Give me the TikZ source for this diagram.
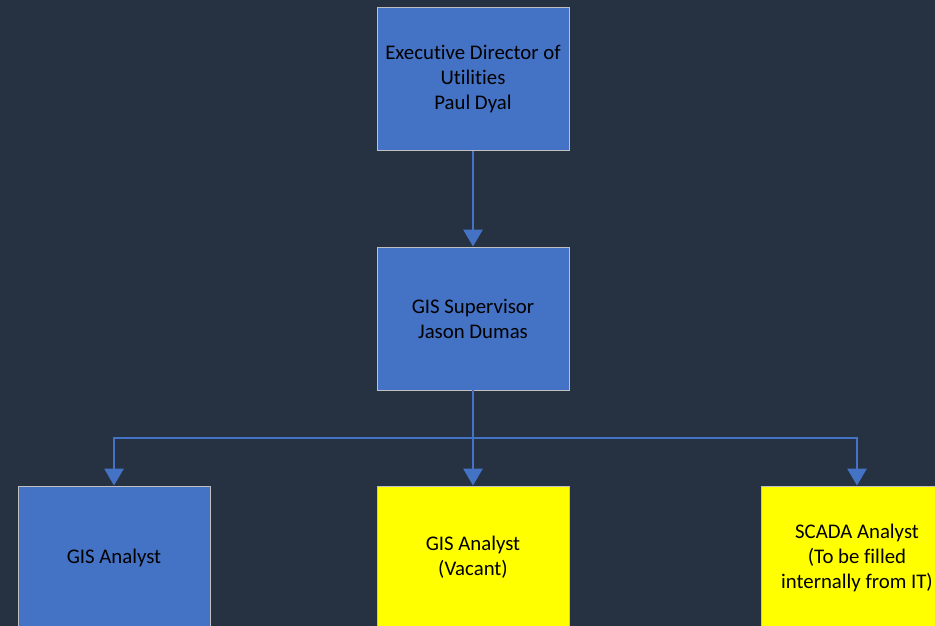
\documentclass[tikz,border=0pt]{standalone}
\usepackage{fontspec}
\setmainfont{Carlito}[Ligatures=NoCommon]
\usetikzlibrary{arrows.meta}
\definecolor{bgdark}{HTML}{263242}
\definecolor{boxblue}{HTML}{4472C4}
\definecolor{boxedge}{HTML}{BFBFBF}
\definecolor{boxyellow}{HTML}{FFFF00}
\begin{document}
\begin{tikzpicture}[x=1pt, y=1pt,
    post/.style={draw=boxedge, line width=0.8pt, fill=boxblue, minimum width=192pt,
      minimum height=143pt, inner sep=0pt, align=center, text=black,
      font=\fontsize{20.8}{25}\selectfont},
    vacant/.style={post, fill=boxyellow},
    link/.style={draw=boxblue, line width=2.8pt},
    tolink/.style={link, -{Triangle[width=19pt, length=17pt]}}]
  \fill[bgdark] (0, 0) rectangle (935, 626) ;
  \clip (0, 0) rectangle (935, 626) ;
  \node[post] (director) at (473, 547) {Executive Director of\\Utilities\\Paul Dyal} ;
  \node[post] (supervisor) at (473, 307.5) {GIS Supervisor\\Jason Dumas} ;
  \node[post] (analyst) at (114, 68.5) {GIS Analyst} ;
  \node[vacant] (vacancy) at (473, 68.5) {GIS Analyst\\(Vacant)} ;
  \node[vacant] (scada) at (857, 68.5) {SCADA Analyst\\(To be filled\\internally from IT)} ;
  \coordinate (bus) at (473, 188) ;
  \draw[tolink] (director) -- (supervisor) ;
  \draw[link] (supervisor) -- (bus) ;
  \draw[tolink] (bus) -- (vacancy) ;
  \draw[tolink] (bus) -| (analyst) ;
  \draw[tolink] (bus) -| (scada) ;
\end{tikzpicture}
\end{document}
